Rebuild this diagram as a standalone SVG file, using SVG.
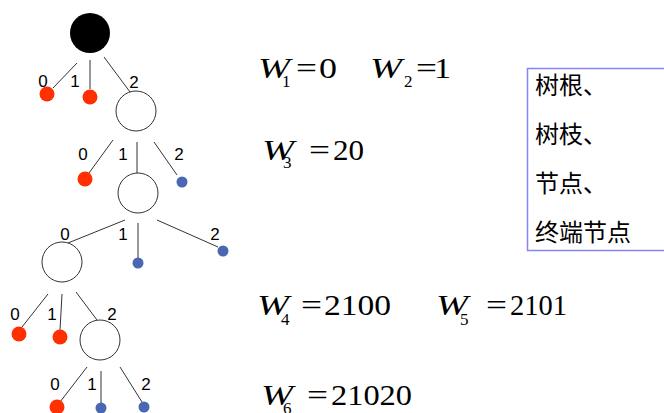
<svg xmlns="http://www.w3.org/2000/svg" width="664" height="413" viewBox="0 0 664 413">
<style>
.e{stroke:#333;stroke-width:1;fill:none}
.w{fill:#fff;stroke:#333;stroke-width:1}
.r{fill:#ff2f00}
.b{fill:#4a67b1}
.l{font-family:"Liberation Sans",Arial,sans-serif;font-size:17px;fill:#000;text-anchor:middle}
.m{font-family:"Liberation Serif","Times New Roman",serif;font-size:29px;fill:#000}
.i{font-style:italic}
.s{font-size:17px}
.c{font-family:"Noto Sans CJK SC","Noto Sans CJK TC",sans-serif;font-size:24px;fill:#000}
</style>
<g id="connectors">
<line class="e" x1="77" y1="63" x2="53" y2="88"/>
<line class="e" x1="90" y1="60" x2="90" y2="89"/>
<line class="e" x1="104" y1="57" x2="130" y2="92"/>
<line class="e" x1="113" y1="140" x2="89" y2="173"/>
<line class="e" x1="137" y1="142" x2="137" y2="173"/>
<line class="e" x1="154" y1="142" x2="177" y2="175"/>
<line class="e" x1="125" y1="220" x2="68" y2="243"/>
<line class="e" x1="138" y1="223" x2="138" y2="259"/>
<line class="e" x1="157" y1="220" x2="218" y2="247"/>
<line class="e" x1="48" y1="294" x2="22" y2="327"/>
<line class="e" x1="62" y1="294" x2="60" y2="330"/>
<line class="e" x1="76" y1="292" x2="97" y2="320"/>
<line class="e" x1="87" y1="367" x2="60" y2="402"/>
<line class="e" x1="101" y1="371" x2="101" y2="404"/>
<line class="e" x1="120" y1="367" x2="142" y2="402"/>
</g>
<g id="labels">
<text class="l" x="43" y="87">0</text>
<text class="l" x="75" y="87">1</text>
<text class="l" x="134" y="88">2</text>
<text class="l" x="83" y="160">0</text>
<text class="l" x="123" y="160">1</text>
<text class="l" x="179" y="160">2</text>
<text class="l" x="65" y="240">0</text>
<text class="l" x="123" y="240">1</text>
<text class="l" x="215" y="240">2</text>
<text class="l" x="15" y="320">0</text>
<text class="l" x="52" y="320">1</text>
<text class="l" x="112" y="320">2</text>
<text class="l" x="55" y="390">0</text>
<text class="l" x="92" y="390">1</text>
<text class="l" x="146" y="390">2</text>
</g>
<g id="root"><circle cx="90" cy="33" r="20" fill="#000"/></g>
<g id="n1"><circle class="r" cx="47" cy="94" r="7.5"/></g>
<g id="n2"><circle class="r" cx="90" cy="97" r="7.5"/></g>
<g id="n3"><circle class="w" cx="136" cy="111" r="20"/></g>
<g id="n4"><circle class="r" cx="85" cy="179" r="7.5"/></g>
<g id="n5"><circle class="w" cx="138" cy="193" r="20"/></g>
<g id="n6"><circle class="b" cx="182" cy="182" r="5.5"/></g>
<g id="n7"><circle class="w" cx="62" cy="262" r="20"/></g>
<g id="n8"><circle class="b" cx="138" cy="263" r="5.5"/></g>
<g id="n9"><circle class="b" cx="223" cy="251" r="5.5"/></g>
<g id="n10"><circle class="r" cx="19" cy="334" r="7.5"/></g>
<g id="n11"><circle class="r" cx="60" cy="337" r="7.5"/></g>
<g id="n12"><circle class="w" cx="100" cy="340" r="20"/></g>
<g id="n13"><circle class="r" cx="57" cy="407" r="7.5"/></g>
<g id="n14"><circle class="b" cx="101" cy="408" r="5.5"/></g>
<g id="n15"><circle class="b" cx="144" cy="407" r="5.5"/></g>
<g id="eq1">
<text class="m i" x="258" y="78" textLength="32" lengthAdjust="spacingAndGlyphs">W</text>
<text class="m s" x="282" y="87">1</text>
<text class="m" x="296" y="78" textLength="21" lengthAdjust="spacingAndGlyphs">=</text>
<text class="m" x="319" y="78" textLength="18" lengthAdjust="spacingAndGlyphs">0</text>
</g>
<g id="eq2">
<text class="m i" x="370" y="78" textLength="32" lengthAdjust="spacingAndGlyphs">W</text>
<text class="m s" x="404" y="87">2</text>
<text class="m" x="416" y="78" textLength="21" lengthAdjust="spacingAndGlyphs">=</text>
<text class="m" x="434" y="78" textLength="17" lengthAdjust="spacingAndGlyphs">1</text>
</g>
<g id="eq3">
<text class="m i" x="262" y="160" textLength="32" lengthAdjust="spacingAndGlyphs">W</text>
<text class="m s" x="283" y="168">3</text>
<text class="m" x="309" y="160" textLength="21" lengthAdjust="spacingAndGlyphs">=</text>
<text class="m" x="333" y="160" textLength="31" lengthAdjust="spacingAndGlyphs">20</text>
</g>
<g id="eq4">
<text class="m i" x="257" y="315" textLength="32" lengthAdjust="spacingAndGlyphs">W</text>
<text class="m s" x="281" y="325">4</text>
<text class="m" x="301" y="315" textLength="21" lengthAdjust="spacingAndGlyphs">=</text>
<text class="m" x="324" y="315" textLength="67" lengthAdjust="spacingAndGlyphs">2100</text>
</g>
<g id="eq5">
<text class="m i" x="436" y="315" textLength="32" lengthAdjust="spacingAndGlyphs">W</text>
<text class="m s" x="460" y="325">5</text>
<text class="m" x="486" y="315" textLength="21" lengthAdjust="spacingAndGlyphs">=</text>
<text class="m" x="510" y="315" textLength="57" lengthAdjust="spacingAndGlyphs">2101</text>
</g>
<g id="eq6">
<text class="m i" x="261" y="405" textLength="32" lengthAdjust="spacingAndGlyphs">W</text>
<text class="m s" x="283" y="414">6</text>
<text class="m" x="307" y="405" textLength="21" lengthAdjust="spacingAndGlyphs">=</text>
<text class="m" x="331" y="405" textLength="81" lengthAdjust="spacingAndGlyphs">21020</text>
</g>
<g id="terms">
<rect x="527.5" y="68.5" width="145" height="182" fill="#fff" stroke="#8585f5" stroke-width="1.5"/>
<text class="c" x="535" y="94">树根、</text>
<text class="c" x="535" y="143">树枝、</text>
<text class="c" x="535" y="192">节点、</text>
<text class="c" x="535" y="241">终端节点</text>
</g>
</svg>
